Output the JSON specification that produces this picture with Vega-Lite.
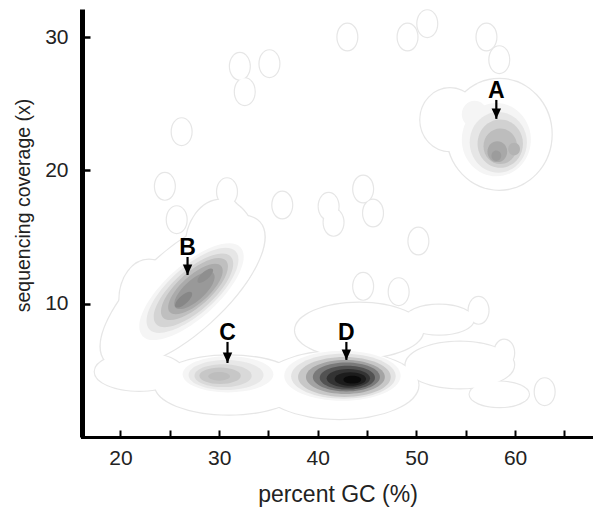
{
  "$schema": "https://vega.github.io/schema/vega-lite/v6.json",
  "autosize": "none",
  "width": 511,
  "height": 428,
  "padding": {"left": 82, "top": 9, "right": 0, "bottom": 73},
  "background": "#ffffff",
  "config": {"view": {"stroke": null}},
  "datasets": {
    "outer": [
      {"group": "outlier", "gc": 32.1, "cov": 27.8, "halfwidth": 1.0},
      {"group": "outlier", "gc": 35.1, "cov": 28.0, "halfwidth": 1.0},
      {"group": "outlier", "gc": 32.6, "cov": 25.9, "halfwidth": 1.0},
      {"group": "outlier", "gc": 26.2, "cov": 22.9, "halfwidth": 1.0},
      {"group": "outlier", "gc": 24.5, "cov": 18.8, "halfwidth": 1.0},
      {"group": "outlier", "gc": 30.8, "cov": 18.4, "halfwidth": 1.0},
      {"group": "outlier", "gc": 31.0, "cov": 16.8, "halfwidth": 1.0},
      {"group": "outlier", "gc": 36.4, "cov": 17.4, "halfwidth": 1.0},
      {"group": "outlier", "gc": 43.0, "cov": 30.0, "halfwidth": 1.0},
      {"group": "outlier", "gc": 49.1, "cov": 30.0, "halfwidth": 1.0},
      {"group": "outlier", "gc": 51.1, "cov": 31.0, "halfwidth": 1.0},
      {"group": "outlier", "gc": 57.1, "cov": 30.0, "halfwidth": 1.0},
      {"group": "outlier", "gc": 58.4, "cov": 28.3, "halfwidth": 1.0},
      {"group": "outlier", "gc": 41.1, "cov": 17.3, "halfwidth": 1.0},
      {"group": "outlier", "gc": 41.6, "cov": 16.1, "halfwidth": 1.0},
      {"group": "outlier", "gc": 44.6, "cov": 18.6, "halfwidth": 1.0},
      {"group": "outlier", "gc": 45.6, "cov": 16.8, "halfwidth": 1.0},
      {"group": "outlier", "gc": 50.2, "cov": 14.7, "halfwidth": 1.0},
      {"group": "outlier", "gc": 44.6, "cov": 11.3, "halfwidth": 1.0},
      {"group": "outlier", "gc": 48.2, "cov": 10.9, "halfwidth": 1.0},
      {"group": "outlier", "gc": 56.3, "cov": 9.5, "halfwidth": 1.0},
      {"group": "outlier", "gc": 58.9, "cov": 6.3, "halfwidth": 1.0},
      {"group": "outlier", "gc": 63.0, "cov": 3.4, "halfwidth": 1.0},
      {"group": "outlier", "gc": 25.7, "cov": 16.3, "halfwidth": 1.0},
      {"group": "A", "gc": 58.4, "cov": 22.7, "halfwidth": 5.3},
      {"group": "A", "gc": 53.4, "cov": 23.8, "halfwidth": 3.0},
      {"group": "B", "gc": 26.3, "cov": 10.9, "halfwidth": 10.5},
      {"group": "outlier", "gc": 30.2, "cov": 14.2, "halfwidth": 3.6},
      {"group": "outlier", "gc": 22.9, "cov": 10.3, "halfwidth": 3.0},
      {"group": "D", "gc": 21.9, "cov": 4.9, "halfwidth": 4.5},
      {"group": "C", "gc": 31.0, "cov": 3.9, "halfwidth": 7.5},
      {"group": "D", "gc": 42.2, "cov": 3.9, "halfwidth": 8.0},
      {"group": "D", "gc": 44.2, "cov": 8.0, "halfwidth": 6.5},
      {"group": "D", "gc": 54.4, "cov": 5.4, "halfwidth": 5.5},
      {"group": "D", "gc": 58.4, "cov": 3.2, "halfwidth": 3.0},
      {"group": "D", "gc": 52.3, "cov": 8.8, "halfwidth": 3.5}
    ],
    "bands": [
      {"group": "D", "gc": 42.5, "cov": 4.6, "halfwidth": 5.9, "lvl": 0.4},
      {"group": "C", "gc": 30.9, "cov": 4.7, "halfwidth": 4.6, "lvl": 0.4},
      {"group": "B", "gc": 27.2, "cov": 10.9, "halfwidth": 6.7, "lvl": 0.4},
      {"group": "A", "gc": 55.9, "cov": 24.2, "halfwidth": 1.3, "lvl": 0.4},
      {"group": "A", "gc": 58.1, "cov": 22.3, "halfwidth": 3.5, "lvl": 0.4},
      {"group": "C", "gc": 30.7, "cov": 4.65, "halfwidth": 3.8, "lvl": 0.9},
      {"group": "D", "gc": 42.6, "cov": 4.55, "halfwidth": 5.3, "lvl": 1.1},
      {"group": "B", "gc": 27.3, "cov": 11.0, "halfwidth": 5.9, "lvl": 1.0},
      {"group": "A", "gc": 58.3, "cov": 22.1, "halfwidth": 2.9, "lvl": 1.0},
      {"group": "C", "gc": 30.4, "cov": 4.6, "halfwidth": 2.9, "lvl": 1.5},
      {"group": "B", "gc": 27.4, "cov": 11.0, "halfwidth": 5.1, "lvl": 1.7},
      {"group": "A", "gc": 58.5, "cov": 22.0, "halfwidth": 2.3, "lvl": 1.8},
      {"group": "D", "gc": 42.7, "cov": 4.5, "halfwidth": 4.7, "lvl": 2.2},
      {"group": "C", "gc": 30.1, "cov": 4.6, "halfwidth": 2.1, "lvl": 2.2},
      {"group": "B", "gc": 27.5, "cov": 11.1, "halfwidth": 4.3, "lvl": 2.5},
      {"group": "A", "gc": 58.5, "cov": 21.8, "halfwidth": 1.7, "lvl": 2.6},
      {"group": "C", "gc": 30.0, "cov": 4.55, "halfwidth": 1.1, "lvl": 2.6},
      {"group": "A", "gc": 59.9, "cov": 21.6, "halfwidth": 0.6, "lvl": 3.0},
      {"group": "B", "gc": 27.6, "cov": 11.1, "halfwidth": 3.5, "lvl": 3.3},
      {"group": "D", "gc": 42.8, "cov": 4.5, "halfwidth": 4.0, "lvl": 3.6},
      {"group": "A", "gc": 58.2, "cov": 21.4, "halfwidth": 1.0, "lvl": 3.4},
      {"group": "A", "gc": 58.1, "cov": 21.1, "halfwidth": 0.5, "lvl": 3.9},
      {"group": "B", "gc": 27.5, "cov": 11.0, "halfwidth": 2.6, "lvl": 4.0},
      {"group": "B", "gc": 28.6, "cov": 12.1, "halfwidth": 1.0, "lvl": 4.4},
      {"group": "B", "gc": 26.4, "cov": 10.3, "halfwidth": 1.1, "lvl": 4.7},
      {"group": "D", "gc": 42.9, "cov": 4.5, "halfwidth": 3.4, "lvl": 5.2},
      {"group": "D", "gc": 43.0, "cov": 4.45, "halfwidth": 2.8, "lvl": 6.8},
      {"group": "D", "gc": 43.1, "cov": 4.4, "halfwidth": 2.2, "lvl": 8.0},
      {"group": "D", "gc": 43.3, "cov": 4.35, "halfwidth": 1.6, "lvl": 8.9},
      {"group": "D", "gc": 43.5, "cov": 4.3, "halfwidth": 0.9, "lvl": 9.6}
    ],
    "labels": [
      {"label": "A", "gc": 58.1, "label_base": 25.43, "shaft_top": 25.28, "tip": 23.86},
      {"label": "B", "gc": 26.8, "label_base": 13.65, "shaft_top": 13.5, "tip": 12.15},
      {"label": "C", "gc": 30.85, "label_base": 7.28, "shaft_top": 7.13, "tip": 5.55},
      {"label": "D", "gc": 42.9, "label_base": 7.28, "shaft_top": 7.13, "tip": 5.78}
    ]
  },
  "layer": [
    {
      "data": {"name": "outer"},
      "mark": {"type": "point", "filled": false, "color": "#e6e6e6", "strokeWidth": 2.4, "opacity": 1},
      "encoding": {
        "x": {"field": "gc", "type": "quantitative",
          "scale": {"domain": [16.1, 67.9], "nice": false, "zero": false},
          "axis": {"title": "percent GC (%)", "values": [20, 25, 30, 35, 40, 45, 50, 55, 60, 65],
            "labelExpr": "datum.value % 10 === 0 ? datum.label : ''",
            "grid": false, "domainColor": "#000000", "domainWidth": 3, "domainCap": "square",
            "tickColor": "#000000", "tickWidth": 2, "tickSize": -7, "labelPadding": 17,
            "labelOverlap": false, "labelFlush": false,
            "labelFont": "Liberation Sans", "labelFontSize": 21, "labelColor": "#222222",
            "titleFont": "Liberation Sans", "titleFontSize": 23, "titleFontWeight": "normal",
            "titleColor": "#222222", "titlePadding": 15}},
        "y": {"field": "cov", "type": "quantitative",
          "scale": {"domain": [0, 32.1], "nice": false, "zero": false},
          "axis": {"title": "sequencing coverage (x)", "values": [10, 20, 30],
            "grid": false, "domainColor": "#000000", "domainWidth": 5,
            "tickColor": "#000000", "tickWidth": 2.5, "tickSize": -8, "labelPadding": 22,
            "labelOverlap": false, "labelFlush": false,
            "labelFont": "Liberation Sans", "labelFontSize": 21, "labelColor": "#222222",
            "titleFont": "Liberation Sans", "titleFontSize": 19.5, "titleFontWeight": "normal",
            "titleColor": "#222222", "titlePadding": 11, "titleY": 196}},
        "shape": {"field": "group", "type": "nominal", "legend": null,
          "scale": {"domain": ["A", "B", "C", "D", "outlier"],
            "range": [
              "M1,0C1,0.585 0.552,1.06 0,1.06C-0.552,1.06 -1,0.585 -1,0C-1,-0.585 -0.552,-1.06 0,-1.06C0.552,-1.06 1,-0.585 1,0Z",
              "M0.743,-0.669C0.891,-0.505 0.678,-0.072 0.268,0.297C-0.142,0.666 -0.595,0.833 -0.743,0.669C-0.891,0.505 -0.678,0.072 -0.268,-0.297C0.142,-0.666 0.595,-0.833 0.743,-0.669Z",
              "M1,0C1,0.221 0.552,0.4 0,0.4C-0.552,0.4 -1,0.221 -1,0C-1,-0.221 -0.552,-0.4 0,-0.4C0.552,-0.4 1,-0.221 1,0Z",
              "M1,0C1,0.237 0.552,0.43 0,0.43C-0.552,0.43 -1,0.237 -1,0C-1,-0.237 -0.552,-0.43 0,-0.43C0.552,-0.43 1,-0.237 1,0Z",
              "M1,0C1,0.746 0.552,1.35 0,1.35C-0.552,1.35 -1,0.746 -1,0C-1,-0.746 -0.552,-1.35 0,-1.35C0.552,-1.35 1,-0.746 1,0Z"
            ]}},
        "size": {"field": "halfwidth", "type": "quantitative", "legend": null,
          "scale": {"type": "pow", "exponent": 2, "domain": [0, 10], "range": [0, 38928]}}
      }
    },
    {
      "data": {"name": "outer"},
      "mark": {"type": "point", "filled": true, "color": "#ffffff", "strokeWidth": 0, "opacity": 1},
      "encoding": {
        "x": {"field": "gc", "type": "quantitative"},
        "y": {"field": "cov", "type": "quantitative"},
        "shape": {"field": "group", "type": "nominal", "legend": null},
        "size": {"field": "halfwidth", "type": "quantitative", "legend": null}
      }
    },
    {
      "data": {"name": "bands"},
      "mark": {"type": "point", "filled": true, "strokeWidth": 0, "opacity": 1},
      "encoding": {
        "x": {"field": "gc", "type": "quantitative"},
        "y": {"field": "cov", "type": "quantitative"},
        "shape": {"field": "group", "type": "nominal", "legend": null},
        "size": {"field": "halfwidth", "type": "quantitative", "legend": null},
        "color": {"field": "lvl", "type": "quantitative", "legend": null,
          "scale": {"domain": [0, 10], "range": ["#ffffff", "#000000"], "interpolate": "rgb"}},
        "order": {"field": "lvl", "sort": "ascending"}
      }
    },
    {
      "data": {"name": "labels"},
      "mark": {"type": "rule", "color": "#000000", "strokeWidth": 2.2},
      "encoding": {
        "x": {"field": "gc", "type": "quantitative"},
        "y": {"field": "shaft_top", "type": "quantitative"},
        "y2": {"field": "tip"}
      }
    },
    {
      "data": {"name": "labels"},
      "mark": {"type": "point", "filled": true, "color": "#000000", "opacity": 1, "size": 90, "strokeWidth": 0,
        "shape": "M-1,-2.2L1,-2.2L0,0Z"},
      "encoding": {
        "x": {"field": "gc", "type": "quantitative"},
        "y": {"field": "tip", "type": "quantitative"}
      }
    },
    {
      "data": {"name": "labels"},
      "mark": {"type": "text", "font": "Liberation Sans", "fontWeight": "bold", "fontSize": 23,
        "color": "#000000", "align": "center", "baseline": "alphabetic"},
      "encoding": {
        "x": {"field": "gc", "type": "quantitative"},
        "y": {"field": "label_base", "type": "quantitative"},
        "text": {"field": "label"}
      }
    }
  ]
}
